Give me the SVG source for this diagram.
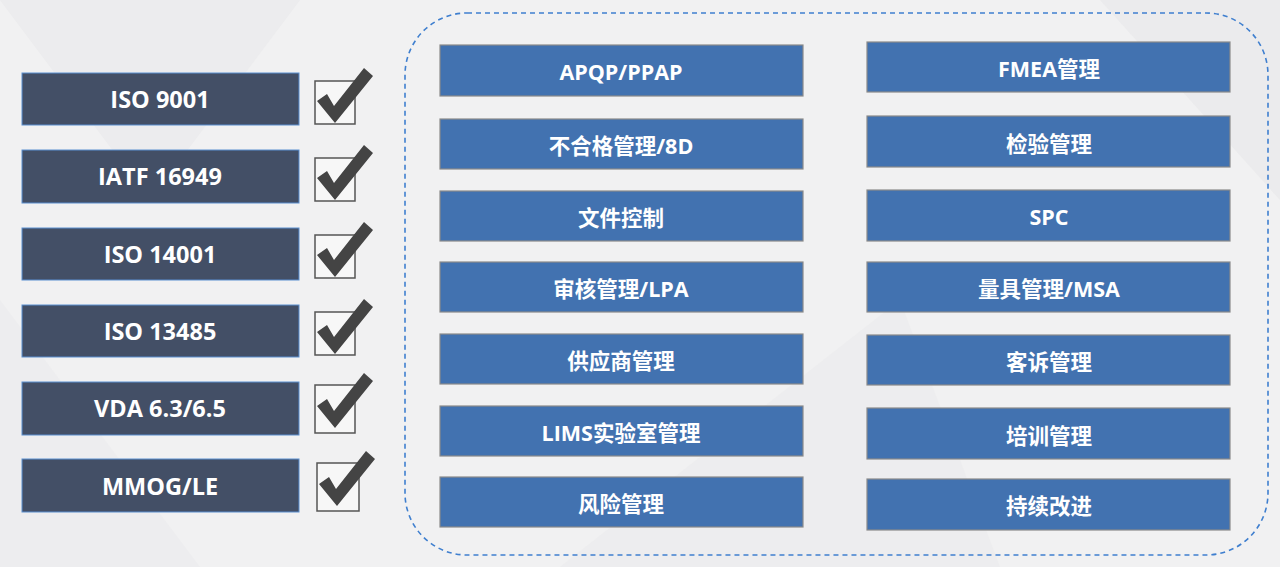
<svg xmlns="http://www.w3.org/2000/svg" width="1280" height="567" viewBox="0 0 1280 567">
<defs>
<style>
.std rect{fill:#434f66;stroke:#5b8fd0;stroke-width:1}
.mod rect{fill:#4272b0;stroke:#8a8a8a;stroke-width:1.2}
text{font-family:"Open Sans","Noto Sans CJK SC",sans-serif;font-weight:bold;fill:#ffffff;text-anchor:middle;dominant-baseline:central}
.std text{font-size:23.5px}
.mod text{font-size:21.5px}
.cb rect{fill:#f7f7f7;stroke:#555;stroke-width:1.5}
.cb path{fill:#444}
</style>
</defs>
<rect width="1280" height="567" fill="#f1f1f2"/>
<g opacity="0.5">
<polygon points="0,0 300,0 150,200" fill="#e8e8ea"/>
<polygon points="560,567 900,300 1000,567" fill="#e9e9eb"/>
<polygon points="1100,0 1280,0 1280,200" fill="#e6e6e8"/>
<polygon points="0,300 200,567 0,567" fill="#eaeaec"/>
</g>
<g id="connectors"></g>
<rect id="group-frame" x="405" y="13" width="863" height="542" rx="62" fill="none" stroke="#3f7fcf" stroke-width="1.6" stroke-dasharray="5,4"/>
<g id="std-iso9001" class="std"><rect x="22" y="73" width="277" height="52"/><text x="160" y="99">ISO 9001</text></g>
<g id="std-iatf" class="std"><rect x="22" y="150" width="277" height="53"/><text x="160" y="176">IATF 16949</text></g>
<g id="std-iso14001" class="std"><rect x="22" y="228" width="277" height="52"/><text x="160" y="254">ISO 14001</text></g>
<g id="std-iso13485" class="std"><rect x="22" y="305" width="277" height="52"/><text x="160" y="331">ISO 13485</text></g>
<g id="std-vda" class="std"><rect x="22" y="382" width="277" height="53"/><text x="160" y="408">VDA 6.3/6.5</text></g>
<g id="std-mmog" class="std"><rect x="22" y="459" width="277" height="53"/><text x="160" y="486">MMOG/LE</text></g>
<g id="checks" class="cb">
<g id="check1"><rect x="315" y="81" width="40" height="43"/><path d="M317 101 L327 94 L334 106 L364 68 L373 76 L335 123 Z"/></g>
<g id="check2"><rect x="315" y="158" width="40" height="43"/><path d="M317 178 L327 171 L334 183 L364 145 L373 153 L335 200 Z"/></g>
<g id="check3"><rect x="315" y="235" width="40" height="43"/><path d="M317 255 L327 248 L334 260 L364 222 L373 230 L335 277 Z"/></g>
<g id="check4"><rect x="315" y="312" width="40" height="43"/><path d="M317 332 L327 325 L334 337 L364 299 L373 307 L335 354 Z"/></g>
<g id="check5"><rect x="315" y="385" width="40" height="48"/><path d="M317 406 L327 399 L334 411 L364 373 L373 381 L335 428 Z"/></g>
<g id="check6"><rect x="317" y="463" width="42" height="48"/><path d="M319 484 L329 477 L336 489 L366 451 L375 459 L337 506 Z"/></g>
</g>
<g id="mod-apqp" class="mod"><rect x="440" y="45" width="363" height="51"/><text x="621" y="71">APQP/PPAP</text></g>
<g id="mod-ncr" class="mod"><rect x="440" y="119" width="363" height="50"/><text x="621" y="145">不合格管理/8D</text></g>
<g id="mod-doc" class="mod"><rect x="440" y="191" width="363" height="50"/><text x="621" y="217">文件控制</text></g>
<g id="mod-audit" class="mod"><rect x="440" y="262" width="363" height="50"/><text x="621" y="288">审核管理/LPA</text></g>
<g id="mod-supplier" class="mod"><rect x="440" y="334" width="363" height="50"/><text x="621" y="360">供应商管理</text></g>
<g id="mod-lims" class="mod"><rect x="440" y="406" width="363" height="50"/><text x="621" y="432">LIMS实验室管理</text></g>
<g id="mod-risk" class="mod"><rect x="440" y="477" width="363" height="50"/><text x="621" y="503">风险管理</text></g>
<g id="mod-fmea" class="mod"><rect x="867" y="42" width="363" height="50"/><text x="1049" y="68">FMEA管理</text></g>
<g id="mod-inspect" class="mod"><rect x="867" y="116" width="363" height="51"/><text x="1049" y="143">检验管理</text></g>
<g id="mod-spc" class="mod"><rect x="867" y="190" width="363" height="51"/><text x="1049" y="216">SPC</text></g>
<g id="mod-gauge" class="mod"><rect x="867" y="262" width="363" height="50"/><text x="1049" y="288">量具管理/MSA</text></g>
<g id="mod-complaint" class="mod"><rect x="867" y="335" width="363" height="50"/><text x="1049" y="361">客诉管理</text></g>
<g id="mod-training" class="mod"><rect x="867" y="408" width="363" height="51"/><text x="1049" y="435">培训管理</text></g>
<g id="mod-ci" class="mod"><rect x="867" y="479" width="363" height="51"/><text x="1049" y="505">持续改进</text></g>
</svg>
